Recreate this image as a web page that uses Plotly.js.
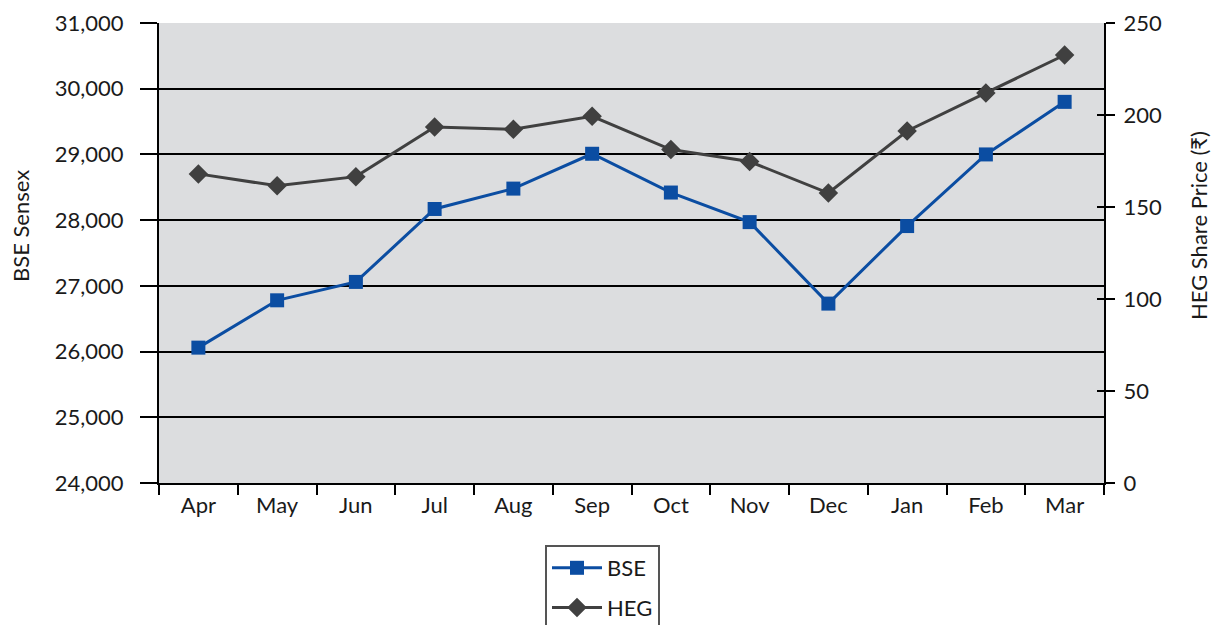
<!DOCTYPE html>
<html>
<head>
<meta charset="utf-8">
<script src="https://cdn.plot.ly/plotly-3.0.1.min.js"></script>
<style>html,body{margin:0;padding:0;background:#fff;}#chart{width:1213px;height:625px;}</style>
</head>
<body>
<div id="chart"></div>
<script>
const months = ["Apr","May","Jun","Jul","Aug","Sep","Oct","Nov","Dec","Jan","Feb","Mar"];
const bseSensex = [26060, 26780, 27060, 28170, 28480, 29010, 28420, 27970, 26730, 27910, 29000, 29800];
const hegPrice = [168, 161.5, 166.5, 193.5, 192.2, 199.3, 181.2, 174.7, 157.6, 191.3, 212, 232.6];
const leftTicks = [24000, 25000, 26000, 27000, 28000, 29000, 30000, 31000];
const rightTicks = [0, 50, 100, 150, 200, 250];

const FONT = "Lato, 'DejaVu Sans', sans-serif";
const W = 1213, H = 625;
const plotLeft = 159, plotRight = 1104, plotTop = 23, plotBottom = 483;
const pw = plotRight - plotLeft, ph = plotBottom - plotTop;

const traces = [
  {
    x: months, y: bseSensex, name: "BSE", type: "scatter", mode: "lines+markers",
    yaxis: "y", legendgroup: "a",
    line: {color: "#0b4da2", width: 3},
    marker: {symbol: "square", size: 14, color: "#0b4da2"}
  },
  {
    x: months, y: hegPrice, name: "HEG", type: "scatter", mode: "lines+markers",
    yaxis: "y2", legendgroup: "b",
    line: {color: "#404040", width: 3},
    marker: {symbol: "diamond", size: 15, color: "#404040"}
  },
  {
    x: months, y: hegPrice, type: "scatter", mode: "none", yaxis: "y3",
    showlegend: false, hoverinfo: "skip", opacity: 0
  }
];

const layout = {
  width: W, height: H,
  margin: {l: plotLeft, r: W - plotRight, t: plotTop, b: H - plotBottom, pad: 0, autoexpand: false},
  paper_bgcolor: "#ffffff",
  plot_bgcolor: "#dcdddf",
  font: {family: FONT, size: 22, color: "#1a1a1a"},
  showlegend: true,
  xaxis: {
    type: "category",
    range: [-0.5, months.length - 0.5],
    tickson: "boundaries",
    ticks: "outside", ticklen: 10, tickwidth: 2, tickcolor: "#000",
    showline: true, linecolor: "#000", linewidth: 2, mirror: false,
    showgrid: false, zeroline: false,
    tickfont: {family: FONT, size: 22, color: "#1a1a1a"},
    ticklabelstandoff: 2
  },
  yaxis: {
    range: [24000, 31000],
    tickvals: leftTicks,
    tickformat: ",d",
    ticks: "outside", ticklen: 17, tickwidth: 2, tickcolor: "#000",
    showline: true, linecolor: "#000", linewidth: 2,
    showgrid: true, gridcolor: "#000", gridwidth: 2,
    zeroline: false,
    tickfont: {family: FONT, size: 22, color: "#1a1a1a"},
    ticklabelstandoff: 12
  },
  yaxis2: {
    range: [0, 250],
    tickvals: rightTicks,
    overlaying: "y", side: "right",
    ticks: "outside", ticklen: 9, tickwidth: 2, tickcolor: "#000",
    showline: true, linecolor: "#000", linewidth: 2,
    showgrid: false, zeroline: false,
    tickfont: {family: FONT, size: 22, color: "#1a1a1a"},
    ticklabelstandoff: 4
  },
  yaxis3: {
    range: [0, 250],
    tickvals: rightTicks,
    overlaying: "y", side: "right",
    ticks: "inside", ticklen: 7, tickwidth: 2, tickcolor: "#000",
    showline: false, showgrid: false, zeroline: false,
    showticklabels: false
  },
  legend: {
    xref: "container", yref: "container",
    x: 545 / W, y: 1 - 545 / H,
    xanchor: "left", yanchor: "top",
    bgcolor: "#ffffff", bordercolor: "#555555", borderwidth: 2,
    font: {family: FONT, size: 22, color: "#1a1a1a"},
    traceorder: "grouped", tracegroupgap: 8,
    itemwidth: 50
  },
  annotations: [
    {
      text: "BSE Sensex", xref: "paper", yref: "paper",
      x: (20 - plotLeft) / pw, y: (plotBottom - 226) / ph,
      xanchor: "center", yanchor: "middle", textangle: -90, showarrow: false,
      font: {family: FONT, size: 22, color: "#1a1a1a"}
    },
    {
      text: "HEG Share Price (₹)", xref: "paper", yref: "paper",
      x: (1198 - plotLeft) / pw, y: (plotBottom - 226) / ph,
      xanchor: "center", yanchor: "middle", textangle: -90, showarrow: false,
      font: {family: FONT, size: 22, color: "#1a1a1a"}
    }
  ]
};

Plotly.newPlot("chart", traces, layout, {displayModeBar: false, staticPlot: true});
</script>
</body>
</html>
